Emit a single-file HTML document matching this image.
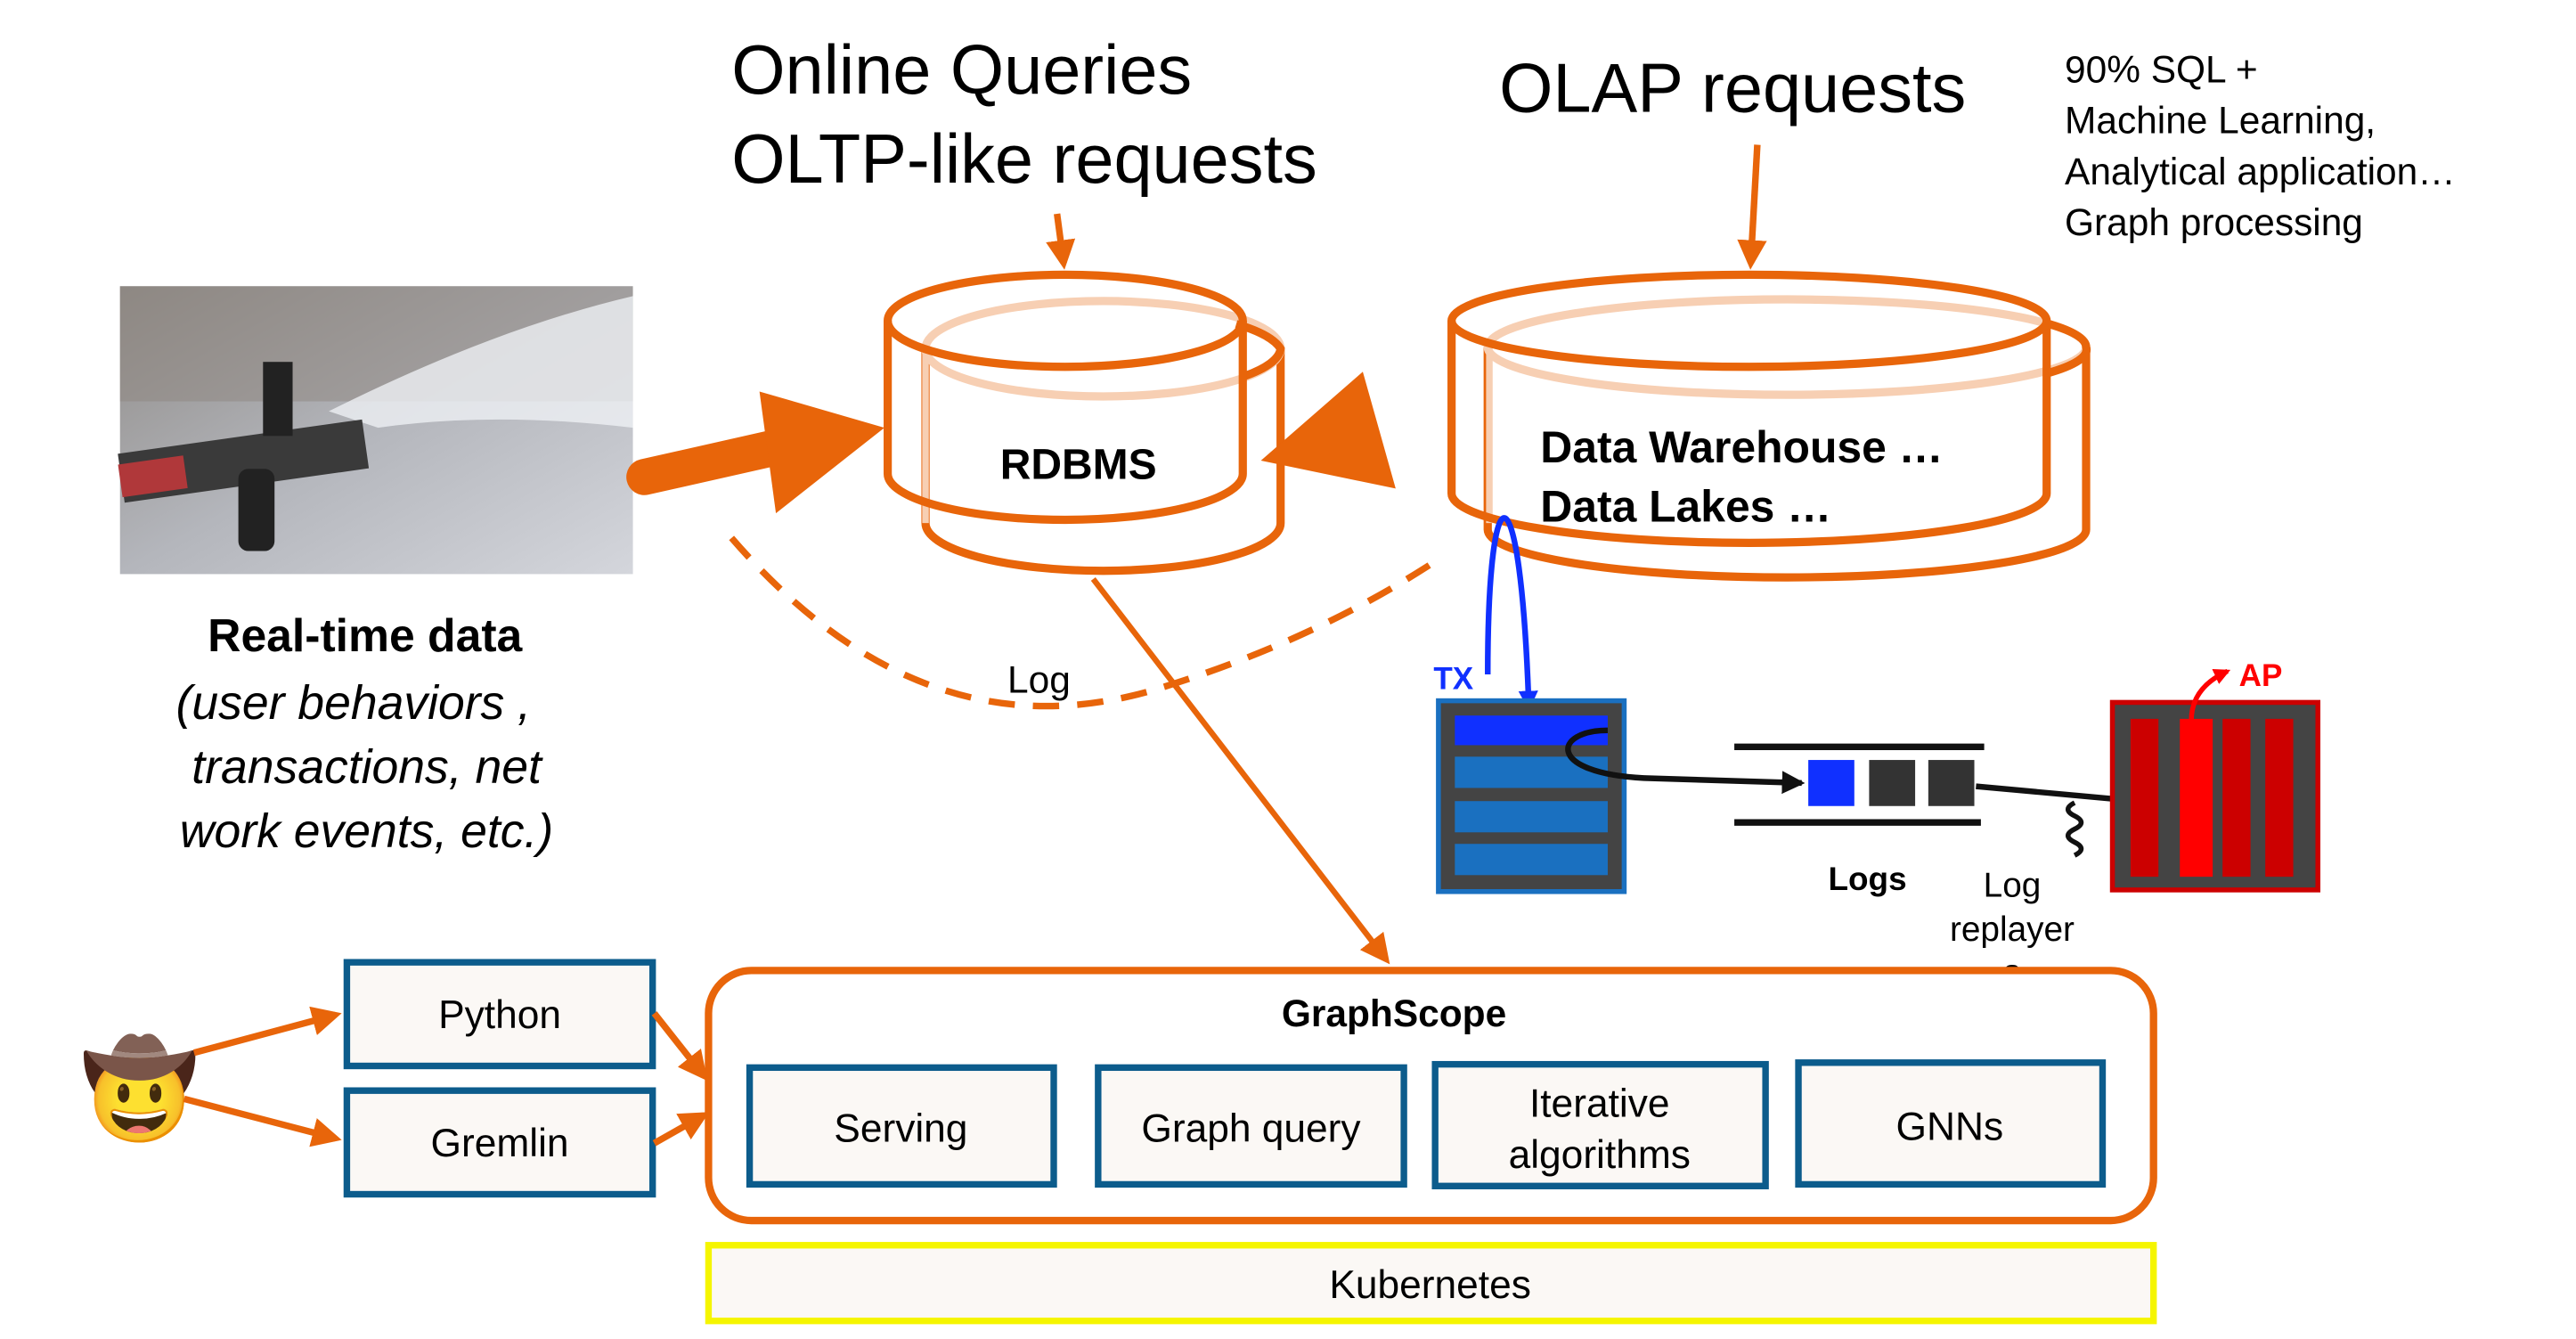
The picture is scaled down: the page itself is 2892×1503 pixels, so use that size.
<!DOCTYPE html>
<html><head><meta charset="utf-8"><style>html,body{margin:0;padding:0;background:#fff;width:2892px;height:1503px;overflow:hidden}svg{display:block}text{font-family:"Liberation Sans",sans-serif}</style></head>
<body>
<svg width="2892" height="1503" viewBox="0 0 1567 814" preserveAspectRatio="none" xmlns="http://www.w3.org/2000/svg">
<defs>
<marker id="aoL" markerWidth="18" markerHeight="18" refX="14" refY="9" orient="auto" markerUnits="userSpaceOnUse" viewBox="0 0 18 18"><path d="M0,0 L18,9 L0,18 z" fill="#E8650A"/></marker>
<marker id="ab" markerWidth="12" markerHeight="12" refX="10" refY="6" orient="auto" markerUnits="userSpaceOnUse" viewBox="0 0 12 12"><path d="M0,0 L12,6 L0,12 z" fill="#1030ff"/></marker>
<marker id="ak" markerWidth="14" markerHeight="14" refX="12" refY="7" orient="auto" markerUnits="userSpaceOnUse" viewBox="0 0 14 14"><path d="M0,0 L14,7 L0,14 z" fill="#111"/></marker>
<marker id="ar" markerWidth="10" markerHeight="10" refX="8" refY="5" orient="auto" markerUnits="userSpaceOnUse" viewBox="0 0 10 10"><path d="M0,0 L10,5 L0,10 z" fill="#f00"/></marker>
<linearGradient id="ph" x1="0" y1="0" x2="1" y2="1"><stop offset="0" stop-color="#8e8a86"/><stop offset="0.5" stop-color="#b4b6bc"/><stop offset="1" stop-color="#d4d6dc"/></linearGradient>
</defs>

<rect x="73" y="174" width="312" height="175" fill="url(#ph)"/>
<rect x="73" y="174" width="312" height="70" fill="#8d8680" opacity="0.5"/>
<path d="M200,250 Q300,200 385,180 L385,260 Q300,250 230,260z" fill="#eef0f4" opacity="0.8"/>
<rect x="73" y="265" width="150" height="30" fill="#3a3a3a" transform="rotate(-8 150 280)"/>
<rect x="73" y="280" width="40" height="20" fill="#b0383a" transform="rotate(-8 90 290)"/>
<rect x="145" y="285" width="22" height="50" rx="6" fill="#222"/>
<rect x="160" y="220" width="18" height="45" fill="#222"/>

<text x="445" y="57" font-size="42">Online Queries</text>
<text x="445" y="111" font-size="42">OLTP-like requests</text>
<text x="912" y="68" font-size="42">OLAP requests</text>
<text x="1256" y="50" font-size="23">90% SQL +</text>
<text x="1256" y="81" font-size="23">Machine Learning,</text>
<text x="1256" y="112" font-size="23">Analytical application…</text>
<text x="1256" y="143" font-size="23">Graph processing</text>
<text x="222" y="396" font-size="28" font-weight="bold" text-anchor="middle">Real-time data</text>
<g font-size="29" font-style="italic" text-anchor="middle"><text x="215" y="437">(user behaviors ,</text><text x="223" y="476">transactions, net</text><text x="223" y="515">work events, etc.)</text></g>

<!-- RDBMS -->
<g fill="none" stroke-width="5">
<path d="M563,212 V318 A108,29 0 0 0 779,318 V212" stroke="#E8650A"/>
<ellipse cx="671" cy="212" rx="108" ry="29" stroke="#f7cfb3"/>
<path d="M752,197 A108,29 0 0 1 779,212 A108,29 0 0 1 756,229" stroke="#E8650A"/>
<path d="M563,212 V318" stroke="#f7cfb3" stroke-width="4"/>
<path d="M540,195 V288 A108,28 0 0 0 756,288 V195" stroke="#E8650A"/>
<ellipse cx="648" cy="195" rx="108" ry="28" stroke="#E8650A"/>
</g>
<text x="656" y="291" font-size="26" font-weight="bold" text-anchor="middle">RDBMS</text>

<!-- DW -->
<g fill="none" stroke-width="5">
<path d="M905,211 V322 A182,29 0 0 0 1269,322 V211" stroke="#E8650A"/>
<ellipse cx="1087" cy="211" rx="182" ry="29" stroke="#f7cfb3"/>
<path d="M1243,196 A182,29 0 0 1 1269,211 A182,29 0 0 1 1245,227" stroke="#E8650A"/>
<path d="M906,211 V318" stroke="#f7cfb3" stroke-width="4"/>
<path d="M883,195 V300 A181,30 0 0 0 1245,300 V195" stroke="#E8650A"/>
<ellipse cx="1064" cy="195" rx="181" ry="28" stroke="#E8650A"/>
</g>
<text x="937" y="281" font-size="27" font-weight="bold">Data Warehouse …</text>
<text x="937" y="317" font-size="27" font-weight="bold">Data Lakes …</text>

<line x1="643" y1="130" x2="647" y2="160" stroke="#E8650A" stroke-width="4" marker-end="url(#aoL)"/>
<line x1="1069" y1="88" x2="1065" y2="160" stroke="#E8650A" stroke-width="4" marker-end="url(#aoL)"/>
<path d="M392,290 L472,272" stroke="#E8650A" stroke-width="22" stroke-linecap="round"/>
<path d="M462,238 L538,260 L472,312z" fill="#E8650A"/>
<path d="M767,280 L829,226 L849,297z" fill="#E8650A"/>
<path d="M445,327 Q560,460 700,420 Q800,390 878,338" fill="none" stroke="#E8650A" stroke-width="4" stroke-dasharray="16,11"/>
<text x="632" y="421" font-size="23" text-anchor="middle">Log</text>
<line x1="665" y1="352" x2="843" y2="583" stroke="#E8650A" stroke-width="3.5" marker-end="url(#aoL)"/>

<path d="M905,410 C905,280 925,280 930,430" fill="none" stroke="#1030ff" stroke-width="3.5" marker-end="url(#ab)"/>
<text x="872" y="419" font-size="19" font-weight="bold" fill="#1030ff">TX</text>
<rect x="875" y="426" width="113" height="116" fill="#444" stroke="#1a70c0" stroke-width="3"/>
<rect x="885" y="435" width="93" height="18" fill="#1030ff"/>
<rect x="885" y="460" width="93" height="19" fill="#1a70c0"/>
<rect x="885" y="487" width="93" height="19" fill="#1a70c0"/>
<rect x="885" y="513" width="93" height="19" fill="#1a70c0"/>
<path d="M978,444 C945,444 940,470 1000,473 L1096,476" fill="none" stroke="#111" stroke-width="3.5" marker-end="url(#ak)"/>
<line x1="1055" y1="454" x2="1207" y2="454" stroke="#111" stroke-width="4"/>
<line x1="1055" y1="500" x2="1205" y2="500" stroke="#111" stroke-width="4"/>
<rect x="1100" y="462" width="28" height="28" fill="#1030ff"/>
<rect x="1137" y="462" width="28" height="28" fill="#333"/>
<rect x="1173" y="462" width="28" height="28" fill="#333"/>
<line x1="1202" y1="478" x2="1300" y2="487" stroke="#111" stroke-width="3.5" marker-end="url(#ak)"/>
<path d="M1262,488 q-8,4 0,8 q8,4 0,8 q-8,4 0,8 q8,4 0,8" fill="none" stroke="#111" stroke-width="3"/>
<text x="1136" y="541" font-size="20" font-weight="bold" text-anchor="middle">Logs</text>
<g font-size="21" text-anchor="middle"><text x="1224" y="545">Log</text><text x="1224" y="572">replayer</text><text x="1224" y="598">s</text></g>

<rect x="1285" y="427" width="125" height="114" fill="#444" stroke="#c00" stroke-width="3"/>
<rect x="1296" y="437" width="17" height="96" fill="#c00"/>
<rect x="1326" y="437" width="20" height="96" fill="#f00"/>
<rect x="1352" y="437" width="17" height="96" fill="#c00"/>
<rect x="1378" y="437" width="17" height="96" fill="#c00"/>
<path d="M1333,438 Q1333,418 1355,408" fill="none" stroke="#f00" stroke-width="3" marker-end="url(#ar)"/>
<text x="1362" y="417" font-size="19" font-weight="bold" fill="#f00">AP</text>

<rect x="431" y="590" width="879" height="152" rx="26" fill="#fff" stroke="#E8650A" stroke-width="4.5"/>
<text x="848" y="624" font-size="23" font-weight="bold" text-anchor="middle">GraphScope</text>
<g fill="#fbf8f5" stroke="#0c5c8c" stroke-width="4">
<rect x="456" y="649" width="185" height="71"/>
<rect x="668" y="649" width="186" height="71"/>
<rect x="873" y="647" width="201" height="74"/>
<rect x="1094" y="646" width="185" height="74"/>
<rect x="211" y="585" width="186" height="63"/>
<rect x="211" y="663" width="186" height="63"/>
</g>
<g font-size="24" text-anchor="middle">
<text x="548" y="694">Serving</text>
<text x="761" y="694">Graph query</text>
<text x="973" y="679">Iterative</text>
<text x="973" y="710">algorithms</text>
<text x="1186" y="693">GNNs</text>
<text x="304" y="625">Python</text>
<text x="304" y="703">Gremlin</text>
</g>
<rect x="431" y="757" width="879" height="46" fill="#fbf8f5" stroke="#f5f500" stroke-width="4"/>
<text x="870" y="789" font-size="24" text-anchor="middle">Kubernetes</text>

<text x="85" y="682" font-size="58" text-anchor="middle" style="font-family:'Noto Color Emoji','DejaVu Sans',sans-serif">🤠</text>
<line x1="118" y1="640" x2="204" y2="617" stroke="#E8650A" stroke-width="4" marker-end="url(#aoL)"/>
<line x1="112" y1="668" x2="204" y2="692" stroke="#E8650A" stroke-width="4" marker-end="url(#aoL)"/>
<line x1="398" y1="616" x2="428" y2="654" stroke="#E8650A" stroke-width="4" marker-end="url(#aoL)"/>
<line x1="398" y1="695" x2="428" y2="678" stroke="#E8650A" stroke-width="4" marker-end="url(#aoL)"/>
</svg>
</body></html>
